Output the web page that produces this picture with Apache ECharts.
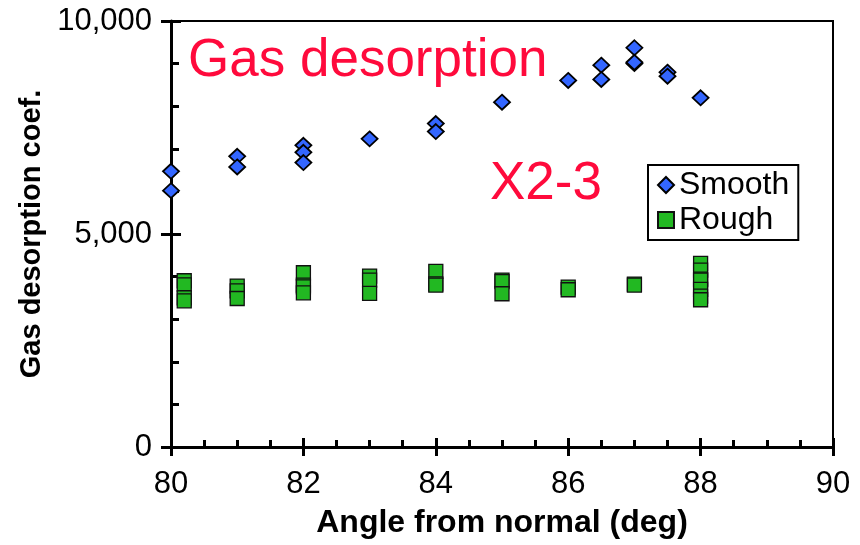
<!DOCTYPE html>
<html>
<head>
<meta charset="utf-8">
<script src="https://cdn.jsdelivr.net/npm/echarts@6/dist/echarts.min.js"></script>
<style>
html,body{margin:0;padding:0;background:#fff;}
#chart{width:860px;height:545px;}
</style>
</head>
<body>
<div id="chart"></div>
<script>
// ---- data ----
const smoothX = [80, 80, 81, 81, 82, 82, 82, 83, 84, 84, 85, 86, 86.5, 86.5, 87, 87, 87, 87.5, 87.5, 88];
const smoothY = [6472, 6018, 6824, 6575, 7083, 6918, 6676, 7233, 7593, 7405, 8094, 8604, 8964, 8627, 9372, 9003, 9030, 8799, 8705, 8197];

const roughX = [80.2, 80.2, 80.2, 80.2, 81, 81, 81, 82, 82, 82, 82, 83, 83, 83, 84, 84, 84, 85, 85, 85, 86, 86, 87, 87, 88, 88, 88, 88, 88, 88, 88];
const roughY = [3902, 3808, 3503, 3432, 3778, 3667, 3486, 4090, 3800, 3761, 3620, 4013, 3919, 3604, 4121, 3830, 3801, 3919, 3880, 3597, 3754, 3691, 3825, 3801, 4309, 4154, 3940, 3919, 3698, 3543, 3456];

const seriesNames = ['Smooth', 'Rough'];
const xTickValues = [80, 82, 84, 86, 88, 90];
const xTickLabels = ['80', '82', '84', '86', '88', '90'];
const yTickValues = [0, 5000, 10000];
const yTickLabels = ['0', '5,000', '10,000'];
const xTitle = 'Angle from normal (deg)';
const yTitle = 'Gas desorption coef.';
const noteMain = 'Gas desorption';
const noteSample = 'X2-3';

const FONT = '"Liberation Sans", Arial, sans-serif';

function pairs(xs, ys) { return xs.map((x, i) => [x, ys[i]]); }
function lab(values, labels) { return v => { const i = values.indexOf(v); return i >= 0 ? labels[i] : ''; }; }

const chart = echarts.init(document.getElementById('chart'), null, {renderer: 'canvas'});

const baseX = {type: 'value', min: 80, max: 90, interval: 2, gridIndex: 0, splitLine: {show: false}};
const baseY = {type: 'value', min: 0, max: 10000, interval: 5000, gridIndex: 0, splitLine: {show: false}};

chart.setOption({
  animation: false,
  backgroundColor: '#fff',
  textStyle: {fontFamily: FONT},
  grid: {left: 171, right: 27, top: 21, bottom: 98, show: true, borderColor: '#000', borderWidth: 2, backgroundColor: 'transparent'},
  xAxis: [
    Object.assign({}, baseX, {
      position: 'bottom',
      axisLine: {onZero: false, lineStyle: {color: '#000', width: 3}},
      axisTick: {show: true, inside: false, length: 9, lineStyle: {color: '#000', width: 3}},
      axisLabel: {fontSize: 31, color: '#000', margin: 22, fontFamily: FONT, formatter: lab(xTickValues, xTickLabels)},
      name: xTitle, nameLocation: 'middle', nameGap: 60,
      nameTextStyle: {fontSize: 32, fontWeight: 'bold', color: '#000', fontFamily: FONT}
    }),
    Object.assign({}, baseX, {
      position: 'bottom',
      axisLine: {show: false, onZero: false},
      axisTick: {show: true, inside: true, length: 9, lineStyle: {color: '#000', width: 3}},
      minorTick: {show: true, splitNumber: 4, length: 7, lineStyle: {color: '#000', width: 3}},
      axisLabel: {show: false}
    })
  ],
  yAxis: [
    Object.assign({}, baseY, {
      position: 'left',
      axisLine: {onZero: false, lineStyle: {color: '#000', width: 3}},
      axisTick: {show: true, inside: false, length: 10, lineStyle: {color: '#000', width: 3}},
      axisLabel: {fontSize: 31, color: '#000', margin: 19, fontFamily: FONT, formatter: lab(yTickValues, yTickLabels)},
      name: yTitle, nameLocation: 'middle', nameGap: 118, nameRotate: 90,
      nameTextStyle: {fontSize: 29, fontWeight: 'bold', color: '#000', fontFamily: FONT}
    }),
    Object.assign({}, baseY, {
      position: 'left',
      axisLine: {show: false, onZero: false},
      axisTick: {show: true, inside: true, length: 10, lineStyle: {color: '#000', width: 3}},
      minorTick: {show: true, splitNumber: 5, length: 8, lineStyle: {color: '#000', width: 3}},
      axisLabel: {show: false}
    })
  ],
  legend: {
    orient: 'vertical', left: 648, top: 165,
    padding: [4, 9, 4, 9], itemGap: 3, itemWidth: 16, itemHeight: 16,
    borderColor: '#000', borderWidth: 2, backgroundColor: '#fff',
    textStyle: {fontSize: 32, color: '#000', fontFamily: FONT},
    data: seriesNames
  },
  graphic: [
    {type: 'text', left: 188, top: 35, z: 10, style: {text: noteMain, fill: '#ff0a3c', font: '53px ' + FONT}},
    {type: 'text', left: 490, top: 158, z: 10, style: {text: noteSample, fill: '#ff0a3c', font: '53px ' + FONT}}
  ],
  series: [
    {
      name: seriesNames[0], type: 'scatter', xAxisIndex: 0, yAxisIndex: 0,
      symbol: 'diamond', symbolSize: [16, 15],
      itemStyle: {color: '#3366ff', borderColor: '#000', borderWidth: 1.8, opacity: 1},
      data: pairs(smoothX, smoothY)
    },
    {
      name: seriesNames[1], type: 'scatter', xAxisIndex: 0, yAxisIndex: 0,
      symbol: 'rect', symbolSize: [14, 14],
      itemStyle: {color: '#22b822', borderColor: '#111', borderWidth: 1.3, opacity: 1},
      data: pairs(roughX, roughY)
    }
  ]
});
</script>
</body>
</html>
